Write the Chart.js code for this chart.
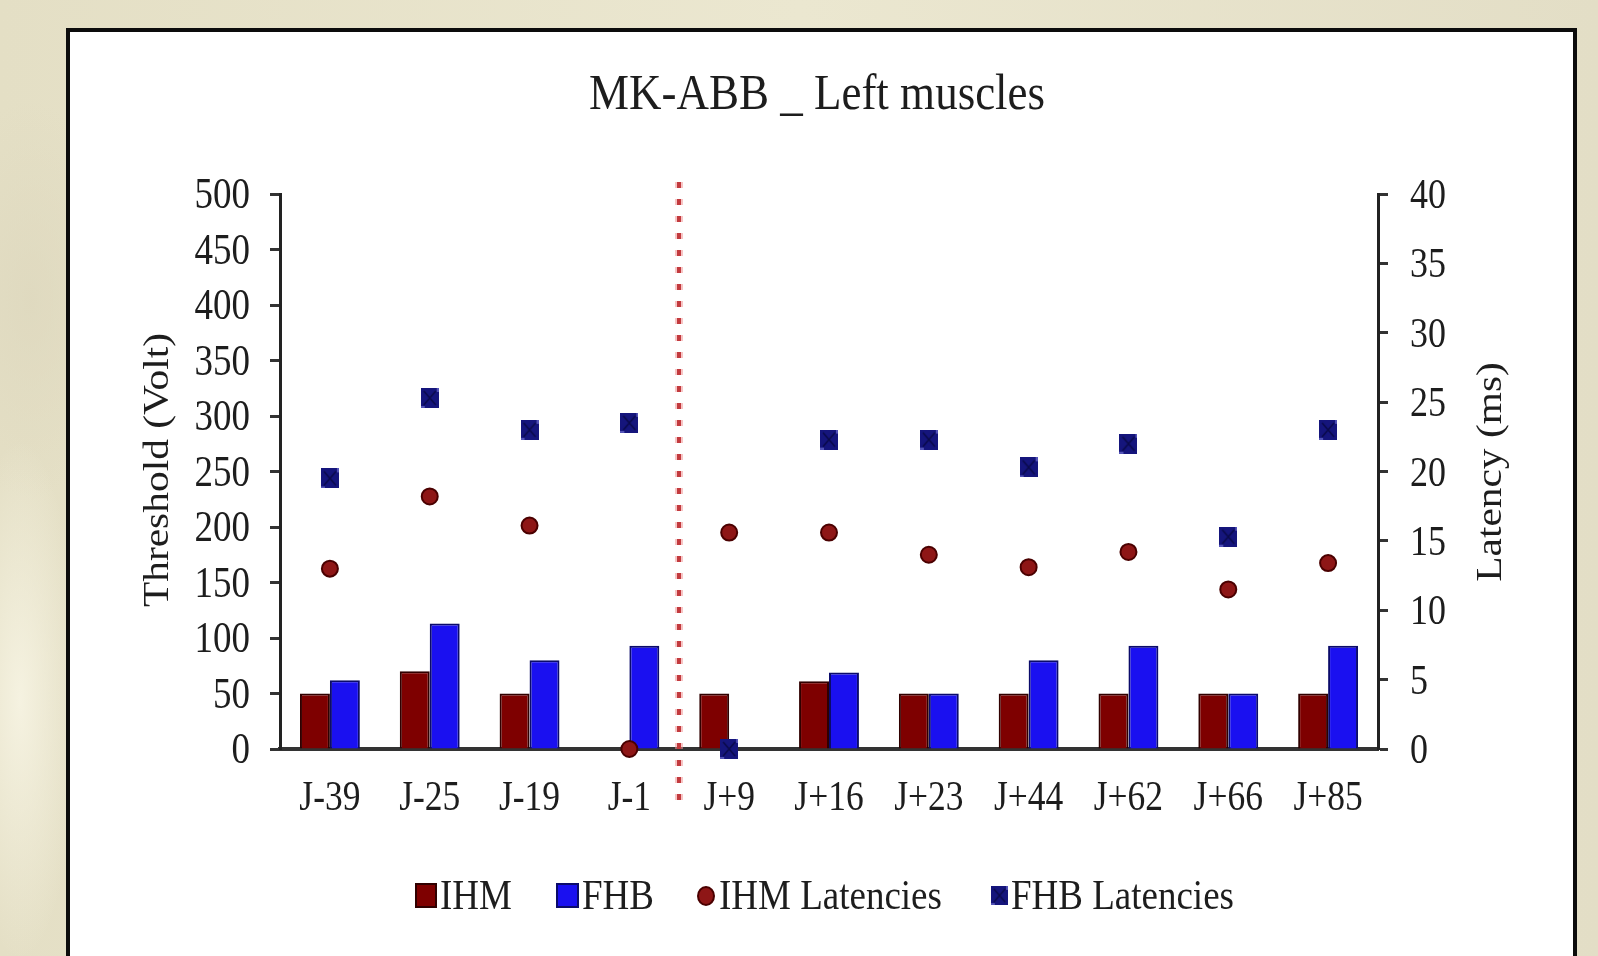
<!DOCTYPE html>
<html>
<head>
<meta charset="utf-8">
<title>MK-ABB _ Left muscles</title>
<script src="https://cdn.jsdelivr.net/npm/chart.js@4.4.1/dist/chart.umd.min.js"></script>
<style>
  html, body { margin: 0; padding: 0; width: 1598px; height: 956px; overflow: hidden; }
  body {
    background-color: #e7e2c9;
    background-image:
      radial-gradient(ellipse 60px 260px at 20px 700px, rgba(246,243,226,0.95), rgba(246,243,226,0) 100%),
      radial-gradient(ellipse 90px 200px at 30px 300px, rgba(222,216,190,0.8), rgba(222,216,190,0) 100%),
      linear-gradient(90deg, #e4dfc5 0%, #ebe7d0 50%, #e3dec6 100%);
  }
  canvas { position: absolute; left: 0; top: 0; }
</style>
</head>
<body>
<canvas id="chart" width="1598" height="956"></canvas>
<script>
// Sessions (days relative to the procedure)
const sessions = ['J-39', 'J-25', 'J-19', 'J-1', 'J+9', 'J+16', 'J+23', 'J+44', 'J+62', 'J+66', 'J+85'];

// Stimulation thresholds (V)
const ihmThreshold = [50, 70, 50, 0, 50, 61, 50, 50, 50, 50, 50];
const fhbThreshold = [62, 113, 80, 93, 0, 69, 50, 80, 93, 50, 93];

// Response latencies (ms)
const ihmLatency = [13.0, 18.2, 16.1, 0, 15.6, 15.6, 14.0, 13.1, 14.2, 11.5, 13.4];
const fhbLatency = [19.5, 25.3, 23.0, 23.5, 0, 22.3, 22.3, 20.3, 22.0, 15.3, 23.0];

// Axis ranges
const thresholdRange = { min: 0, max: 500, step: 50 };
const latencyRange = { min: 0, max: 40, step: 5 };

// The procedure falls between these two sessions
const markerBetween = ['J-1', 'J+9'];

const chartTitle = 'MK-ABB _ Left muscles';
const thresholdTitle = 'Threshold (Volt)';
const latencyTitle = 'Latency (ms)';

const FONT = "'Liberation Serif', 'Times New Roman', serif";
const TEXT = '#1d1d1d';

// Text helper: the type in this figure is drawn slightly tall
function tallText(ctx, str, x, y, size, o = {}) {
  ctx.save();
  ctx.translate(x, y);
  ctx.scale(1, o.k || 1.18);
  if (o.rot) ctx.rotate(o.rot);
  ctx.font = `${size}px ${FONT}`;
  ctx.textAlign = o.align || 'center';
  ctx.textBaseline = o.baseline || 'alphabetic';
  ctx.fillStyle = o.color || TEXT;
  ctx.fillText(str, 0, 0);
  ctx.restore();
}

// Marker for the FHB latency points: small navy block
function navyMarker(w, h) {
  const c = document.createElement('canvas');
  c.width = w; c.height = h;
  const g = c.getContext('2d');
  g.fillStyle = '#15157c';
  g.fillRect(0, 0, w, h);
  g.strokeStyle = 'rgba(90,90,190,0.9)';
  g.lineWidth = 2;
  g.beginPath();
  g.moveTo(w - 1, 0); g.lineTo(w - 1, 4);
  g.moveTo(0, h - 1); g.lineTo(4, h - 1);
  g.stroke();
  g.strokeStyle = 'rgba(10,10,70,0.9)';
  g.lineWidth = 1.5;
  g.beginPath();
  g.moveTo(3, 3); g.lineTo(w - 3, h - 3);
  g.moveTo(w - 3, 3); g.lineTo(3, h - 3);
  g.stroke();
  return c;
}
const fhbMarker = navyMarker(18, 20);

// White framed panel behind the plot
const panelPlugin = {
  id: 'panel',
  beforeDraw(chart) {
    const ctx = chart.ctx;
    ctx.save();
    ctx.fillStyle = '#ffffff';
    ctx.fillRect(68, 30, 1507, 940);
    ctx.strokeStyle = '#0c0c0c';
    ctx.lineWidth = 4;
    ctx.strokeRect(68, 30, 1507, 940);
    ctx.restore();
  }
};

// Dotted red line marking the procedure
const procedurePlugin = {
  id: 'procedure',
  afterDatasetsDraw(chart) {
    const x = chart.scales.x;
    const i0 = sessions.indexOf(markerBetween[0]);
    const i1 = sessions.indexOf(markerBetween[1]);
    const px = Math.round((x.getPixelForValue(i0) + x.getPixelForValue(i1)) / 2);
    const top = chart.chartArea.top - 12;
    const bottom = chart.chartArea.bottom + 55;
    const ctx = chart.ctx;
    ctx.save();
    ctx.setLineDash([6, 11]);
    ctx.lineDashOffset = 0;
    ctx.strokeStyle = 'rgba(240,150,150,0.55)';
    ctx.lineWidth = 8;
    ctx.beginPath(); ctx.moveTo(px, top); ctx.lineTo(px, bottom); ctx.stroke();
    ctx.strokeStyle = '#c23a3e';
    ctx.lineWidth = 4;
    ctx.beginPath(); ctx.moveTo(px, top); ctx.lineTo(px, bottom); ctx.stroke();
    ctx.restore();
  }
};

// Title, tick labels, axis titles and legend
const textPlugin = {
  id: 'texts',
  afterDraw(chart) {
    const ctx = chart.ctx;
    const { x, y, y1 } = chart.scales;
    const area = chart.chartArea;

    tallText(ctx, chartTitle, 817, 109, 45, { k: 1.12 });

    y.ticks.forEach(t => {
      tallText(ctx, String(t.value), area.left - 30, y.getPixelForValue(t.value) + 14, 37, { align: 'right', k: 1.17 });
    });
    y1.ticks.forEach(t => {
      tallText(ctx, String(t.value), area.right + 32, y1.getPixelForValue(t.value) + 14, 36, { align: 'left', k: 1.17 });
    });
    sessions.forEach((s, i) => {
      tallText(ctx, s, x.getPixelForValue(i), 810, 35.5, { k: 1.2 });
    });

    tallText(ctx, thresholdTitle, 159, 470, 36, { rot: -Math.PI / 2, baseline: 'middle', k: 1.15 });
    tallText(ctx, latencyTitle, 1492, 472, 36, { rot: -Math.PI / 2, baseline: 'middle', k: 1.15 });

    // legend
    const ds = chart.data.datasets;
    const base = 909;
    ctx.save();
    ctx.lineWidth = 2;
    ctx.fillStyle = ds[0].backgroundColor; ctx.strokeStyle = ds[0].borderColor;
    ctx.fillRect(416, 884, 20, 23); ctx.strokeRect(416, 884, 20, 23);
    ctx.fillStyle = ds[1].backgroundColor; ctx.strokeStyle = ds[1].borderColor;
    ctx.fillRect(557, 884, 21, 23); ctx.strokeRect(557, 884, 21, 23);
    ctx.fillStyle = ds[2].pointBackgroundColor; ctx.strokeStyle = ds[2].pointBorderColor;
    ctx.beginPath(); ctx.ellipse(706, 896, 8, 9, 0, 0, Math.PI * 2); ctx.fill(); ctx.stroke();
    ctx.drawImage(fhbMarker, 991, 886, 17, 19);
    ctx.restore();
    tallText(ctx, ds[0].label, 440, base, 37, { align: 'left', k: 1.15 });
    tallText(ctx, ds[1].label, 582, base, 37, { align: 'left', k: 1.15 });
    tallText(ctx, ds[2].label, 719, base, 37, { align: 'left', k: 1.15 });
    tallText(ctx, ds[3].label, 1011, base, 37, { align: 'left', k: 1.15 });
  }
};

const tickGrid = { drawOnChartArea: false, drawTicks: true, tickLength: 10, tickColor: '#333333', tickWidth: 3 };

new Chart(document.getElementById('chart'), {
  type: 'bar',
  data: {
    labels: sessions,
    datasets: [
      {
        type: 'bar', label: 'IHM', data: ihmThreshold, yAxisID: 'y', order: 2,
        backgroundColor: '#7e0000', borderColor: '#300000', borderWidth: 2,
        categoryPercentage: 0.6, barPercentage: 1.0
      },
      {
        type: 'bar', label: 'FHB', data: fhbThreshold, yAxisID: 'y', order: 2,
        backgroundColor: '#1a10f0', borderColor: '#0b0b6a', borderWidth: 2,
        categoryPercentage: 0.6, barPercentage: 1.0
      },
      {
        type: 'line', label: 'IHM Latencies', data: ihmLatency, yAxisID: 'y1', order: 1,
        showLine: false, clip: false, pointStyle: 'circle', pointRadius: 8,
        pointBackgroundColor: '#8e1616', pointBorderColor: '#4a0000', pointBorderWidth: 2
      },
      {
        type: 'line', label: 'FHB Latencies', data: fhbLatency, yAxisID: 'y1', order: 0,
        showLine: false, clip: false, pointStyle: fhbMarker, pointRadius: 9,
        pointBackgroundColor: '#15157c', pointBorderColor: '#15157c'
      }
    ]
  },
  options: {
    responsive: false,
    animation: false,
    devicePixelRatio: 1,
    layout: { padding: { top: 194, left: 0, right: 0, bottom: 0 } },
    plugins: { legend: { display: false }, title: { display: false }, tooltip: { enabled: false } },
    scales: {
      x: {
        grid: { display: false },
        border: { display: true, color: '#333333', width: 4 },
        ticks: { display: false },
        afterFit(s) { s.height = 207; }
      },
      y: {
        position: 'left',
        min: thresholdRange.min, max: thresholdRange.max,
        ticks: { stepSize: thresholdRange.step, display: false },
        grid: tickGrid,
        border: { display: true, color: '#222222', width: 3 },
        afterFit(s) { s.width = 280; }
      },
      y1: {
        position: 'right',
        min: latencyRange.min, max: latencyRange.max,
        ticks: { stepSize: latencyRange.step, display: false },
        grid: tickGrid,
        border: { display: true, color: '#222222', width: 3 },
        afterFit(s) { s.width = 220; }
      }
    }
  },
  plugins: [panelPlugin, procedurePlugin, textPlugin]
});
</script>
</body>
</html>
